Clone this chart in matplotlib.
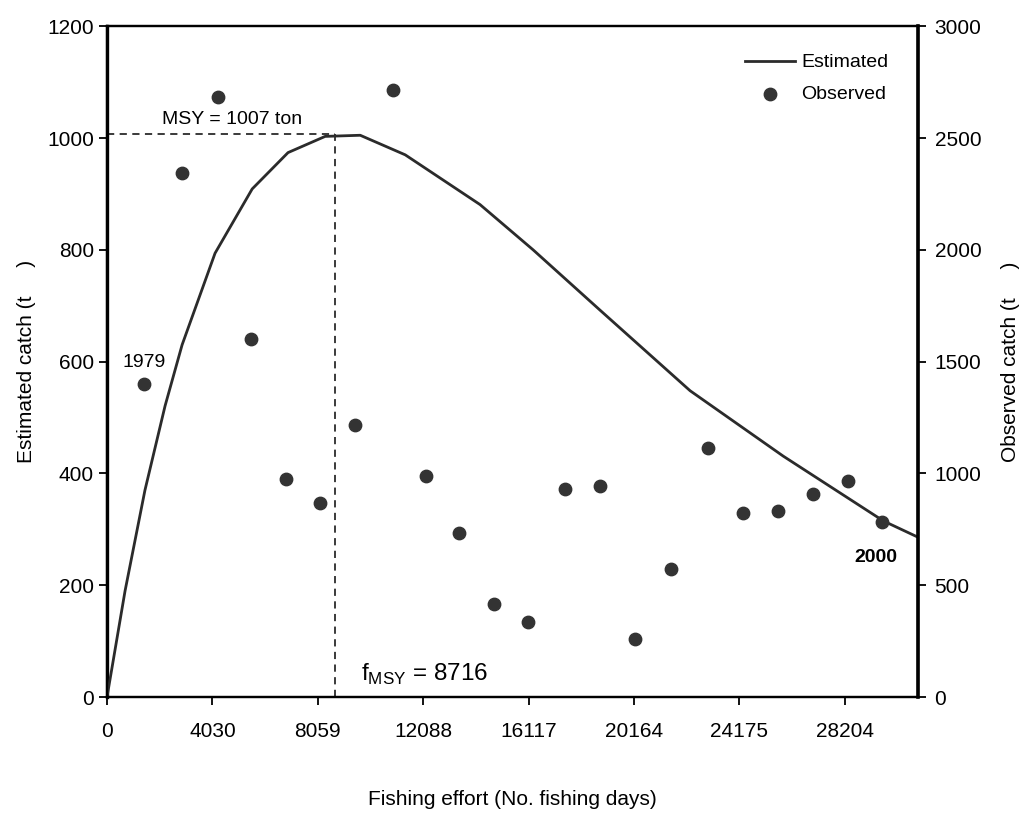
import matplotlib.pyplot as plt

plt.rcParams['font.family'] = ['Liberation Sans', 'DejaVu Sans']

# Estimated (left axis) surplus production curve
effort_est = [0, 690, 1450, 2220, 2870, 4130, 5550, 6920, 8340, 9680, 11400, 14260,
              16290, 18850, 22290, 25850, 29680, 31000]
catch_est = [0, 190, 370, 521, 630, 794, 909, 974, 1003, 1005, 970, 881,
             800, 692, 548, 431, 315, 286]

# Observed catch (right axis), 1979-2000
effort_obs = [1415, 2870, 4245, 5510, 6845, 8145, 9485, 10940, 12200, 13460, 14800,
              16100, 17510, 18850, 20190, 21570, 22980, 24320, 25660, 27000, 28340, 29640]
catch_obs = [1400, 2343, 2685, 1600, 973, 866, 1217, 2715, 989, 734, 417,
             336, 931, 943, 260, 572, 1113, 824, 832, 906, 967, 782]

msy = 1007
f_msy = 8716
xticks = [0, 4030, 8059, 12088, 16117, 20164, 24175, 28204]

fig = plt.figure(figsize=(10.33, 8.21), dpi=100)
ax = fig.add_axes([0.1036, 0.151, 0.785, 0.817])
ax2 = ax.twinx()

line_col = '#2b2b2b'
ax.plot(effort_est, catch_est, color=line_col, lw=2.0, label='Estimated', zorder=3)
ax2.scatter(effort_obs, catch_obs, s=80, color='#333333', label='Observed', zorder=4)

# MSY reference lines
ax.plot([0, f_msy], [msy, msy], ls=(0, (4, 3)), color=line_col, lw=1.3)
ax.plot([f_msy, f_msy], [0, msy], ls=(0, (4, 3)), color=line_col, lw=1.3)

ax.text(2100, 1018, 'MSY = 1007 ton', fontsize=14, va='bottom', ha='left')
ax.text(f_msy + 1000, 18, r'f$_{\mathregular{MSY}}$ = 8716', fontsize=17.5,
        va='bottom', ha='left')
ax2.text(effort_obs[0], catch_obs[0] + 60, '1979', fontsize=14, ha='center', va='bottom')
ax2.text(effort_obs[-1] - 250, catch_obs[-1] - 120, '2000', fontsize=14,
         ha='center', va='top', fontweight='bold')

ax.set_xlim(0, 31000)
ax.set_ylim(0, 1200)
ax2.set_ylim(0, 3000)
ax.set_xticks(xticks)
ax.set_xticklabels([str(t) for t in xticks])
ax.set_yticks(range(0, 1201, 200))
ax2.set_yticks(range(0, 3001, 500))

ax.tick_params(axis='both', labelsize=15, length=6, width=1.3, direction='out')
ax.tick_params(axis='x', pad=12)
ax2.tick_params(axis='y', labelsize=15, length=6, width=1.3, direction='out', pad=6)

for sp in ax.spines.values():
    sp.set_linewidth(1.6)
ax.spines['left'].set_linewidth(2.4)
for sp in ax2.spines.values():
    sp.set_linewidth(1.6)
ax2.spines['right'].set_linewidth(2.6)

ax.set_ylabel('Estimated catch (t     )', fontsize=15, labelpad=8)
ax2.set_ylabel('Observed catch (t     )', fontsize=15, rotation=90, labelpad=14)
ax.set_xlabel('Fishing effort (No. fishing days)', fontsize=15, labelpad=35)

h1, l1 = ax.get_legend_handles_labels()
h2, l2 = ax2.get_legend_handles_labels()
ax2.legend(h1 + h2, l1 + l2, loc='upper right', frameon=False, fontsize=14,
           bbox_to_anchor=(0.985, 0.985), handlelength=2.6, labelspacing=0.7,
           handletextpad=0.3)

fig.savefig('out.png', dpi=100)
